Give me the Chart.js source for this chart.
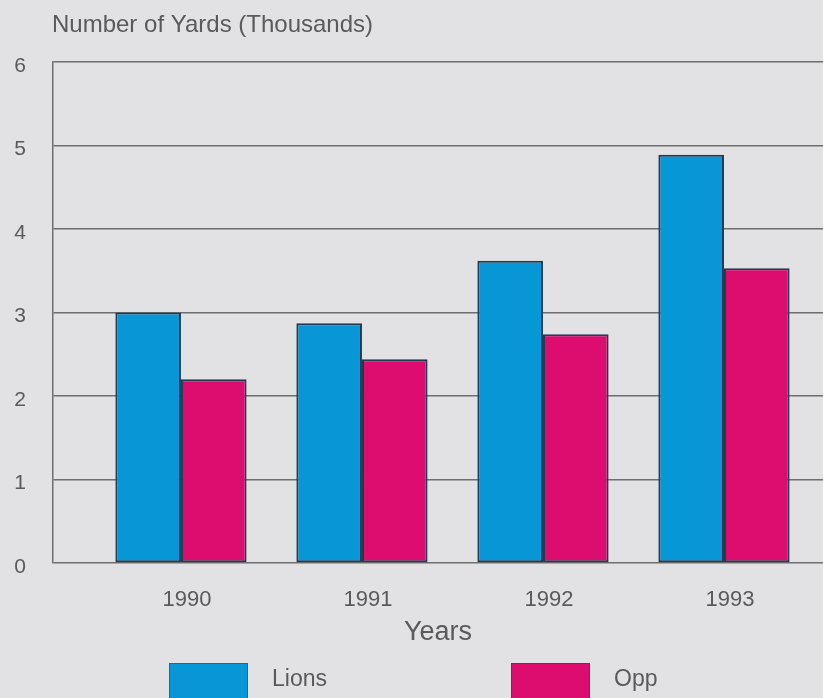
<!DOCTYPE html>
<html>
<head>
<meta charset="utf-8">
<title>Number of Yards</title>
<script src="https://cdn.jsdelivr.net/npm/chart.js@4"></script>
<style>
  html, body { margin: 0; padding: 0; background: #e2e1e3; overflow: hidden; }
  #wrap { width: 823px; height: 698px; }
</style>
</head>
<body>
<div id="wrap"><canvas id="c" width="823" height="698"></canvas></div>
<script>
// Season totals, in thousands of yards
const years = ['1990', '1991', '1992', '1993'];
const lionsYards = [3.0, 2.87, 3.62, 4.89];
const oppYards = [2.2, 2.44, 2.74, 3.53];
const seriesNames = ['Lions', 'Opp'];
const yTickValues = [0, 1, 2, 3, 4, 5, 6];

const INK = '#5a5a5a';
const GRID = '#6f6f6f';
const FONT = '"Liberation Sans", Arial, Helvetica, sans-serif';
const COLORS = ['#0897d6', '#dd0c6f'];
const EDGE = '#233a55';

// Axis heading above the plot
const headingPlugin = {
  id: 'heading',
  afterDraw(chart) {
    const ctx = chart.ctx;
    ctx.save();
    ctx.fillStyle = INK;
    ctx.font = '24px ' + FONT;
    ctx.textAlign = 'left';
    ctx.textBaseline = 'alphabetic';
    ctx.fillText('Number of Yards (Thousands)', 52, 32);
    ctx.restore();
  }
};

// Swatch legend along the bottom edge
const swatchLegend = {
  id: 'swatchLegend',
  afterDraw(chart) {
    const ctx = chart.ctx;
    const left = 169, step = 342, top = 663, boxW = 79, boxH = 40, gap = 24, baseline = 686;
    ctx.save();
    chart.data.datasets.forEach((ds, i) => {
      const x = left + i * step;
      ctx.fillStyle = ds.backgroundColor;
      ctx.fillRect(x, top, boxW, boxH);
      ctx.strokeStyle = 'rgba(35,58,85,0.45)';
      ctx.lineWidth = 1;
      ctx.strokeRect(x + 0.5, top + 0.5, boxW - 1, boxH);
      ctx.fillStyle = INK;
      ctx.font = '23px ' + FONT;
      ctx.textAlign = 'left';
      ctx.textBaseline = 'alphabetic';
      ctx.fillText(ds.label, x + boxW + gap, baseline);
    });
    ctx.restore();
  }
};

const toPoints = (vals) => vals.map((v, i) => ({ x: i, y: v }));

new Chart(document.getElementById('c'), {
  type: 'bar',
  data: {
    datasets: [
      {
        label: seriesNames[0],
        data: toPoints(lionsYards),
        backgroundColor: COLORS[0],
        borderColor: EDGE,
        borderWidth: 2,
        borderSkipped: false,
        categoryPercentage: 0.725,
        barPercentage: 1.0
      },
      {
        label: seriesNames[1],
        data: toPoints(oppYards),
        backgroundColor: COLORS[1],
        borderColor: EDGE,
        borderWidth: 2,
        borderSkipped: false,
        categoryPercentage: 0.725,
        barPercentage: 1.0
      }
    ]
  },
  options: {
    responsive: false,
    animation: false,
    devicePixelRatio: 1,
    layout: { padding: { top: 62, left: 0, right: 0, bottom: 0 } },
    plugins: {
      legend: { display: false },
      tooltip: { enabled: false },
      title: { display: false }
    },
    scales: {
      x: {
        type: 'linear',
        offset: false,
        min: -0.707,
        max: 3.547,
        afterBuildTicks(scale) {
          scale.ticks = years.map((_, i) => ({ value: i }));
        },
        afterFit(scale) { scale.height = 135; },
        grid: { display: false, drawTicks: false, offset: false },
        border: { display: false },
        ticks: {
          callback: (v) => years[v] ?? '',
          color: INK,
          font: { family: FONT, size: 22 },
          padding: 24,
          labelOffset: 6,
          maxRotation: 0,
          autoSkip: false
        },
        title: {
          display: true,
          text: 'Years',
          color: INK,
          font: { family: FONT, size: 27 },
          padding: { top: 0, bottom: 49 }
        }
      },
      y: {
        min: 0,
        max: 6,
        afterBuildTicks(scale) {
          scale.ticks = yTickValues.map(v => ({ value: v }));
        },
        afterFit(scale) { scale.width = 53; },
        grid: { color: GRID, lineWidth: 1.5, drawTicks: false },
        border: { display: true, color: GRID, width: 1.5 },
        ticks: {
          color: INK,
          font: { family: FONT, size: 21 },
          crossAlign: 'center',
          padding: 27,
          labelOffset: 4
        }
      }
    }
  },
  plugins: [headingPlugin, swatchLegend]
});
</script>
</body>
</html>
